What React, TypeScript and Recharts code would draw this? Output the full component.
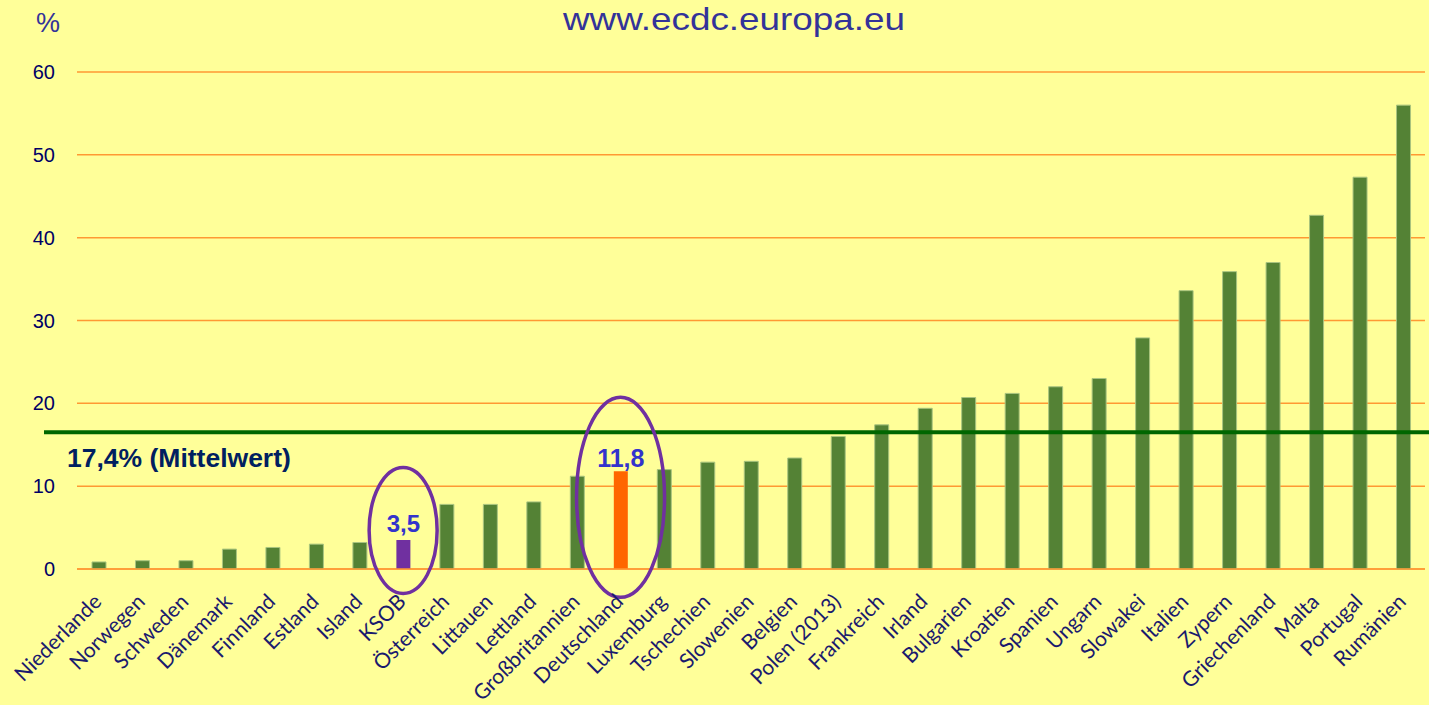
import { BarChart, Bar, XAxis, YAxis, CartesianGrid, ReferenceLine, ReferenceDot, Cell, LabelList } from "recharts";

const countries = [
  "Niederlande", "Norwegen", "Schweden", "Dänemark", "Finnland", "Estland", "Island", "KSOB",
  "Österreich", "Littauen", "Lettland", "Großbritannien", "Deutschland", "Luxemburg", "Tschechien",
  "Slowenien", "Belgien", "Polen (2013)", "Frankreich", "Irland", "Bulgarien", "Kroatien", "Spanien",
  "Ungarn", "Slowakei", "Italien", "Zypern", "Griechenland", "Malta", "Portugal", "Rumänien",
];
const rates = [
  0.85, 1.0, 1.0, 2.4, 2.6, 3.0, 3.2, 3.5,
  7.8, 7.8, 8.1, 11.2, 11.8, 12.0, 12.9,
  13.0, 13.4, 16.0, 17.4, 19.4, 20.7, 21.2, 22.0,
  23.0, 27.9, 33.6, 35.9, 37.0, 42.7, 47.3, 56.0,
];
const yTicks = [0, 10, 20, 30, 40, 50, 60];
const meanLine = 16.5;
const meanText = "17,4% (Mittelwert)";
const highlighted = ["KSOB", "Deutschland"];
const highlightLabels = ["3,5", "11,8"];
const ellipseCenters = [4.65, 8.65];

const data = countries.map((name, i) => ({ name, rate: rates[i] }));

const GREEN = "#548235";
const barColor = (name: string) =>
  name === "KSOB" ? "#7030A0" : name === "Deutschland" ? "#FF6600" : GREEN;

const ellipseSize = [
  { rx: 34, ry: 63 },
  { rx: 44, ry: 100 },
];

const CountryTick = (props: any) => {
  const { x, y, payload } = props;
  const ax = x + 4;
  const ay = y + 34;
  return (
    <text
      x={ax}
      y={ay}
      transform={`rotate(-45, ${ax}, ${ay})`}
      textAnchor="end"
      fontFamily="Lato, 'Open Sans', sans-serif"
      fontSize={21}
      fill="#1a1a6e"
    >
      {payload.value}
    </text>
  );
};

const HighlightLabel = (props: any) => {
  const { x, y, width, index } = props;
  const k = highlighted.indexOf(countries[index]);
  if (k < 0) return null;
  return (
    <text
      x={x + width / 2}
      y={y - (k === 0 ? 8 : 4)}
      textAnchor="middle"
      fontFamily="'Liberation Sans', Arial, sans-serif"
      fontWeight="bold"
      fontSize={k === 0 ? 24 : 25}
      fill="#3333CC"
    >
      {highlightLabels[k]}
    </text>
  );
};

export default function App() {
  return (
    <div
      style={{
        position: "absolute",
        left: 0,
        top: 0,
        width: 1429,
        height: 705,
        background: "#FFFF99",
        overflow: "hidden",
      }}
    >
      <svg width={1429} height={50} style={{ position: "absolute", left: 0, top: 0 }}>
        <text
          x={734}
          y={30}
          textAnchor="middle"
          fontFamily="'Liberation Sans', Arial, sans-serif"
          fontSize={32}
          textLength={342}
          lengthAdjust="spacingAndGlyphs"
          fill="#333399"
        >
          www.ecdc.europa.eu
        </text>
        <text
          x={36}
          y={32}
          fontFamily="'Liberation Sans', Arial, sans-serif"
          fontSize={27}
          fill="#333399"
        >
          %
        </text>
      </svg>
      <BarChart
        width={1429}
        height={705}
        data={data}
        margin={{ top: 72, right: 4, bottom: 0, left: 0 }}
        barSize={14}
        style={{ position: "absolute", left: 0, top: 0 }}
      >
        <CartesianGrid vertical={false} stroke="#FF9933" strokeWidth={1.5} />
        <XAxis
          dataKey="name"
          interval={0}
          height={136}
          tickLine={false}
          tickSize={0}
          tickMargin={0}
          axisLine={{ stroke: "#FF9933", strokeWidth: 1.5 }}
          tick={<CountryTick />}
        />
        <YAxis
          domain={[0, 60]}
          ticks={yTicks}
          width={77}
          axisLine={false}
          tickLine={false}
          tickSize={0}
          tickMargin={22}
          tick={{ fill: "#000066", fontSize: 20, fontFamily: "'Liberation Sans', Arial, sans-serif" }}
        />
        <Bar dataKey="rate" isAnimationActive={false}>
          {data.map((d) => (
            <Cell
              key={d.name}
              fill={barColor(d.name)}
              stroke={barColor(d.name) === GREEN ? "#A9C47F" : "none"}
              strokeWidth={1}
            />
          ))}
          <LabelList dataKey="rate" content={<HighlightLabel />} />
        </Bar>
        <ReferenceLine
          y={meanLine}
          ifOverflow="visible"
          shape={(p: any) => (
            <line x1={p.x1 - 33} y1={p.y1} x2={p.x2 + 5} y2={p.y2} stroke="#006600" strokeWidth={4} />
          )}
          label={({ viewBox }: any) => (
            <text
              x={viewBox.x - 10}
              y={viewBox.y + 35}
              fontFamily="'Liberation Sans', Arial, sans-serif"
              fontWeight="bold"
              fontSize={26.5}
              fill="#002060"
            >
              {meanText}
            </text>
          )}
        />
        {highlighted.map((name, k) => (
          <ReferenceDot
            key={name}
            x={name}
            y={ellipseCenters[k]}
            ifOverflow="visible"
            shape={(p: any) => (
              <ellipse
                cx={p.cx}
                cy={p.cy}
                rx={ellipseSize[k].rx}
                ry={ellipseSize[k].ry}
                fill="none"
                stroke="#7030A0"
                strokeWidth={3.5}
              />
            )}
          />
        ))}
      </BarChart>
    </div>
  );
}
